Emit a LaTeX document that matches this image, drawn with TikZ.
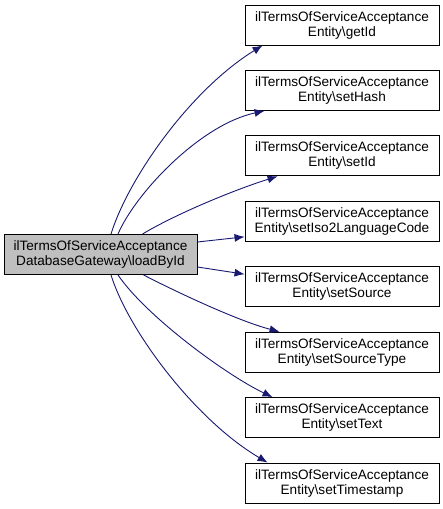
\documentclass[tikz,border=0pt]{standalone}
\usepackage{fontspec}
\setmainfont{Liberation Sans}
\usetikzlibrary{arrows.meta}
\definecolor{edgeblue}{HTML}{191970}
\definecolor{focusgray}{HTML}{BFBFBF}
\tikzset{
  fn/.style={draw=black, line width=0.9pt, fill=white, inner sep=0pt, align=center,
    minimum width=194pt, minimum height=40pt, font=\fontsize{13.6}{15}\selectfont},
  focus/.style={fn, fill=focusgray, minimum width=193pt},
  call/.style={draw=edgeblue, line width=0.9pt, -{Latex[length=10pt,width=8pt]}}
}
\begin{document}
\begin{tikzpicture}[x=1pt,y=-1pt]
\useasboundingbox (0,0) rectangle (443,509);
\node[focus] (L) at (100.5,254.5) {ilTermsOfServiceAcceptance\\DatabaseGateway\textbackslash loadById};
\node[fn] (n1) at (342,25) {ilTermsOfServiceAcceptance\\Entity\textbackslash getId};
\node[fn] (n2) at (342,90.4) {ilTermsOfServiceAcceptance\\Entity\textbackslash setHash};
\node[fn] (n3) at (342,155.9) {ilTermsOfServiceAcceptance\\Entity\textbackslash setId};
\node[fn] (n4) at (342,221.3) {ilTermsOfServiceAcceptance\\Entity\textbackslash setIso2LanguageCode};
\node[fn] (n5) at (342,286.7) {ilTermsOfServiceAcceptance\\Entity\textbackslash setSource};
\node[fn] (n6) at (342,352.2) {ilTermsOfServiceAcceptance\\Entity\textbackslash setSourceType};
\node[fn] (n7) at (342,417.6) {ilTermsOfServiceAcceptance\\Entity\textbackslash setText};
\node[fn] (n8) at (342,483) {ilTermsOfServiceAcceptance\\Entity\textbackslash setTimestamp};
\draw[call] ([xshift=10.5]L.north) .. controls +(17,-55) and +(-73,45) .. ([xshift=18]n1.south west);
\draw[call] ([xshift=17.5]L.north) .. controls +(17,-40) and +(-65,14) .. ([xshift=20]n2.south west);
\draw[call] ([xshift=42]L.north) .. controls +(33,-20) and +(-42,13) .. ([xshift=33]n3.south west);
\draw[call] ([yshift=12.5]L.east) -- ([yshift=-15.5]n4.west);
\draw[call] ([yshift=-12.5]L.east) -- ([yshift=12.5]n5.west);
\draw[call] ([xshift=43]L.south) .. controls +(33,17) and +(-42,-11) .. ([xshift=35]n6.north west);
\draw[call] ([xshift=17.5]L.south) .. controls +(27,40) and +(-48,-23) .. ([xshift=28]n7.north west);
\draw[call] ([xshift=10.5]L.south) .. controls +(17,55) and +(-73,-43) .. ([xshift=23]n8.north west);
\end{tikzpicture}
\end{document}
